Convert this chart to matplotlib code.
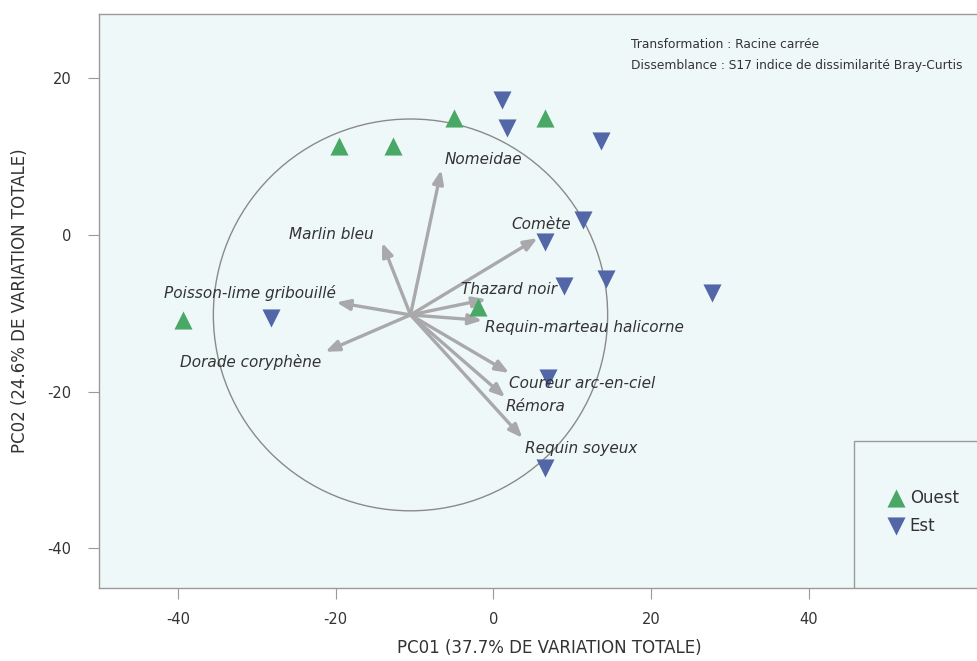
import matplotlib
matplotlib.use("Agg")
import matplotlib.pyplot as plt
from matplotlib.patches import Circle, Rectangle

# --- sample scores on the first two principal coordinates ---
ouest_x = [-39.4, -19.6, -12.7, -5.0, 6.6, -1.9]
ouest_y = [-10.9, 11.4, 11.4, 14.9, 14.9, -9.2]

est_x = [-28.2, 1.1, 1.7, 13.7, 11.4, 6.6, 9.0, 14.3, 27.7, 6.9, 6.6]
est_y = [-10.6, 17.2, 13.7, 12.0, 1.9, -0.9, -6.5, -5.6, -7.4, -18.3, -29.7]

# --- species vectors (correlation overlay) ---
vec_origin = (-10.5, -10.2)
vec_radius = 25.0
species = ["Nomeidae", "Marlin bleu", "Comète", "Thazard noir",
           "Requin-marteau halicorne", "Coureur arc-en-ciel", "Rémora",
           "Requin soyeux", "Poisson-lime gribouillé", "Dorade coryphène"]
tip_x = [-6.6, -14.1, 5.6, -0.9, -1.4, 2.0, 1.5, 3.7, -19.9, -21.3]
tip_y = [8.3, -1.0, -0.4, -8.2, -10.9, -17.6, -20.7, -25.9, -8.6, -14.9]
label_x = [-6.2, -15.2, 2.3, -4.1, -1.0, 2.0, 1.6, 4.0, -20.0, -21.8]
label_y = [9.6, 0.0, 1.3, -6.9, -11.8, -18.9, -21.9, -27.2, -7.4, -16.2]
label_ha = ["left", "right", "left", "left", "left", "left", "left", "left",
            "right", "right"]

notes = ["Transformation : Racine carrée",
         "Dissemblance : S17 indice de dissimilarité Bray-Curtis"]

xticks = [-40, -20, 0, 20, 40]
yticks = [-40, -20, 0, 20]

plt.rcParams["font.family"] = ["DejaVu Sans"]
plt.rcParams["axes.unicode_minus"] = False

GREEN = "#4aa866"
BLUE = "#5366a8"
ARROW = "#a9a9ab"
EDGE = "#9a9a9a"
TXT = "#333333"

fig = plt.figure(figsize=(9.77, 6.61), dpi=100)
ax = fig.add_axes([99 / 977, 1 - 588 / 661, (999 - 99) / 977, (588 - 14) / 661])
ax.set_facecolor("#eff8f8")
ax.set_xlim(-50, (999 - 494) / 7.875)
ax.set_ylim(-45.05, 28.2)

for s in ax.spines.values():
    s.set_color(EDGE)
    s.set_linewidth(1.0)

ax.set_xticks(xticks)
ax.set_yticks(yticks)
ax.tick_params(colors=EDGE, labelcolor=TXT, labelsize=10.5, length=8, width=0.8)
ax.tick_params(axis="x", pad=9)
ax.tick_params(axis="y", pad=12)
ax.set_xlabel("PC01 (37.7% DE VARIATION TOTALE)", fontsize=12, color=TXT,
              labelpad=9)
ax.set_ylabel("PC02 (24.6% DE VARIATION TOTALE)", fontsize=12, color=TXT,
              labelpad=13)

# correlation circle
ax.add_patch(Circle(vec_origin, vec_radius, fill=False, ec="#8a8a8a",
                    lw=1.0, zorder=2))

# species vectors
for tx, ty in zip(tip_x, tip_y):
    ax.annotate("", xy=(tx, ty), xytext=vec_origin,
                arrowprops=dict(arrowstyle="-|>,head_length=0.8,head_width=0.32",
                                color=ARROW, lw=2.4, shrinkA=0, shrinkB=0),
                zorder=3)
for name, lx, ly, ha in zip(species, label_x, label_y, label_ha):
    ax.text(lx, ly, name, ha=ha, va="center", style="italic", fontsize=11,
            color=TXT, zorder=5)

# samples
h_o = ax.scatter(ouest_x, ouest_y, marker="^", s=170, color=GREEN,
                 linewidths=0, zorder=4, label="Ouest")
h_e = ax.scatter(est_x, est_y, marker="v", s=170, color=BLUE,
                 linewidths=0, zorder=4, label="Est")

# legend panel
ax.add_patch(Rectangle((45.8, -50), 40, 50 - 26.3, fill=False, ec=EDGE,
                       lw=1.0, zorder=6, clip_on=True))
ax.legend(handles=[h_o, h_e], loc="upper left",
          bbox_to_anchor=((878 - 99) / 900, 1 - (482 - 14) / 574),
          frameon=False, fontsize=12, handletextpad=0.1, labelspacing=0.6,
          borderaxespad=0, handlelength=1.4, labelcolor=TXT)

for i, t in enumerate(notes):
    ax.text((631 - 99) / 900, 1 - (44 - 14 + 21 * i) / 574, t,
            transform=ax.transAxes, fontsize=8.8, color=TXT, va="center",
            ha="left")

fig.savefig("out.png", dpi=100)
